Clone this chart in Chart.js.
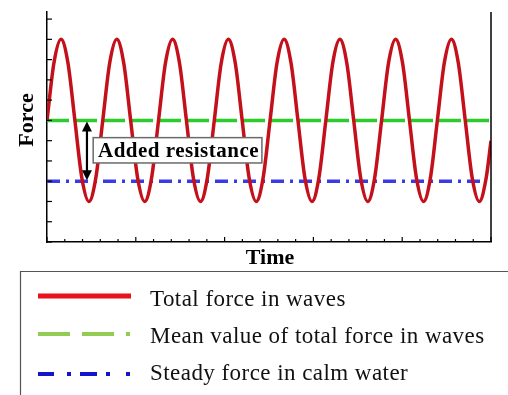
<!DOCTYPE html>
<html><head><meta charset="utf-8">
<script src="https://cdn.jsdelivr.net/npm/chart.js@4.4.1/dist/chart.umd.min.js"></script>
<style>html,body{margin:0;padding:0;background:#fff;overflow:hidden}canvas{display:block}</style>
</head><body>
<canvas id="c" width="508" height="395"></canvas>
<script>
// ---- data ----
const timePoints = [0, 0.39, 0.79, 1.18, 1.57, 1.96, 2.36, 2.75, 3.14, 3.53, 3.93, 4.32, 4.71, 5.10, 5.50, 5.89,
  6.28, 6.67, 7.07, 7.46, 7.85, 8.24, 8.64, 9.03, 9.42, 9.81, 10.21, 10.60, 10.99, 11.38, 11.78, 12.17,
  12.56, 12.95, 13.35, 13.74, 14.13, 14.52, 14.92, 15.31, 15.70, 16.09, 16.49, 16.88, 17.27, 17.66, 18.06, 18.45,
  18.84, 19.23, 19.63, 20.02, 20.41, 20.80, 21.20, 21.59, 21.98, 22.37, 22.77, 23.16, 23.55, 23.94, 24.34, 24.73, 25.0];
const totalForce = [6, 8.83, 10, 8.83, 6, 3.17, 2, 3.17, 6, 8.83, 10, 8.83, 6, 3.17, 2, 3.17,
  6, 8.83, 10, 8.83, 6, 3.17, 2, 3.17, 6, 8.83, 10, 8.83, 6, 3.17, 2, 3.17,
  6, 8.83, 10, 8.83, 6, 3.17, 2, 3.17, 6, 8.83, 10, 8.83, 6, 3.17, 2, 3.17,
  6, 8.83, 10, 8.83, 6, 3.17, 2, 3.17, 6, 8.83, 10, 8.83, 6, 3.17, 2, 3.17, 5.0];
const meanTime = [0, 25];
const meanForce = [6, 6];
const steadyTime = [0, 24.7];
const steadyForce = [3, 3];
const xTickValues = [0,1,2,3,4,5,6,7,8,9,10,11,12,13,14,15,16,17,18,19,20,21,22,23,24,25];
const xMajorTicks = [0,5,10,15,20,25];
const yTickValues = [0,1,2,3,4,5,6,7,8,9,10,11];
const seriesLabels = ['Total force in waves', 'Mean value of total force in waves', 'Steady force in calm water'];
const xTitle = 'Time';
const yTitle = 'Force';
const annotationText = 'Added resistance';
const arrowTime = 2.25;
const boxTime = [2.6, 12.1];
const boxForce = [5.15, 3.9];

const toXY = (xs, ys) => xs.map((x, i) => ({x: x, y: ys[i]}));

const overlay = {
  id: 'overlay',
  afterDatasetsDraw(chart) {
    const ctx = chart.ctx, xs = chart.scales.x, ys = chart.scales.y;
    const ca = chart.chartArea;
    ctx.save();
    // right axis line
    ctx.strokeStyle = '#000'; ctx.lineWidth = 1.5;
    ctx.beginPath(); ctx.moveTo(xs.getPixelForValue(25), ca.top); ctx.lineTo(xs.getPixelForValue(25), ca.bottom); ctx.stroke();
    // inward ticks
    const xl = xs.getPixelForValue(0), yb = ys.getPixelForValue(0);
    ctx.lineWidth = 1.2;
    yTickValues.forEach(v => {
      const py = ys.getPixelForValue(v);
      ctx.beginPath(); ctx.moveTo(xl, py); ctx.lineTo(xl + 5, py); ctx.stroke();
    });
    xTickValues.forEach(v => {
      const px = xs.getPixelForValue(v);
      const len = xMajorTicks.includes(v) ? 5 : 3;
      ctx.beginPath(); ctx.moveTo(px, yb); ctx.lineTo(px, yb - len); ctx.stroke();
    });
    // double arrow
    const ax = xs.getPixelForValue(arrowTime);
    const y1 = ys.getPixelForValue(meanForce[0]) + 1, y2 = ys.getPixelForValue(steadyForce[0]) - 1;
    ctx.fillStyle = '#000'; ctx.lineWidth = 2.2;
    ctx.beginPath(); ctx.moveTo(ax, y1 + 7); ctx.lineTo(ax, y2 - 7); ctx.stroke();
    ctx.beginPath(); ctx.moveTo(ax, y1); ctx.lineTo(ax - 5, y1 + 10); ctx.lineTo(ax + 5, y1 + 10); ctx.closePath(); ctx.fill();
    ctx.beginPath(); ctx.moveTo(ax, y2); ctx.lineTo(ax - 5, y2 - 10); ctx.lineTo(ax + 5, y2 - 10); ctx.closePath(); ctx.fill();
    // annotation box
    const bx1 = xs.getPixelForValue(boxTime[0]), bx2 = xs.getPixelForValue(boxTime[1]);
    const by1 = ys.getPixelForValue(boxForce[0]), by2 = ys.getPixelForValue(boxForce[1]);
    ctx.fillStyle = '#fff';
    ctx.fillRect(bx1, by1, bx2 - bx1, by2 - by1);
    ctx.strokeStyle = '#6a6a6a'; ctx.lineWidth = 1.5;
    ctx.strokeRect(bx1, by1, bx2 - bx1, by2 - by1);
    ctx.fillStyle = '#000';
    ctx.font = 'bold 21px "Liberation Serif", serif';
    ctx.letterSpacing = '0.5px';
    ctx.textAlign = 'center'; ctx.textBaseline = 'middle';
    ctx.fillText(annotationText, (bx1 + bx2) / 2 + 1, (by1 + by2) / 2 + 1);
    ctx.restore();
  },
  afterDraw(chart) {
    const ctx = chart.ctx, xs = chart.scales.x, ca = chart.chartArea;
    ctx.save();
    ctx.fillStyle = '#000';
    ctx.font = 'bold 22px "Liberation Serif", serif';
    ctx.textAlign = 'center'; ctx.textBaseline = 'alphabetic';
    ctx.fillText(xTitle, (ca.left + ca.right) / 2 + 1, 264);
    ctx.save();
    ctx.translate(33, (ca.top + ca.bottom) / 2 - 7);
    ctx.rotate(-Math.PI / 2);
    ctx.fillText(yTitle, 0, 0);
    ctx.restore();
    // legend box
    ctx.strokeStyle = '#555'; ctx.lineWidth = 1.2;
    ctx.beginPath(); ctx.moveTo(20.5, 400); ctx.lineTo(20.5, 271.5); ctx.lineTo(510, 271.5); ctx.stroke();
    // legend samples
    const rows = [296, 334, 374];
    ctx.lineCap = 'butt';
    ctx.strokeStyle = '#e8121a'; ctx.lineWidth = 5;
    ctx.beginPath(); ctx.moveTo(38, rows[0]); ctx.lineTo(131, rows[0]); ctx.stroke();
    ctx.strokeStyle = '#92cc55'; ctx.lineWidth = 4;
    [[38, 70], [82, 114], [126, 130]].forEach(s => { ctx.beginPath(); ctx.moveTo(s[0], rows[1]); ctx.lineTo(s[1], rows[1]); ctx.stroke(); });
    ctx.strokeStyle = '#1414cc';
    [[38, 54], [67, 71], [80, 97], [106, 110], [126, 130]].forEach(s => { ctx.beginPath(); ctx.moveTo(s[0], rows[2]); ctx.lineTo(s[1], rows[2]); ctx.stroke(); });
    ctx.fillStyle = '#111';
    ctx.font = '23px "Liberation Serif", serif';
    ctx.letterSpacing = '0.45px';
    ctx.textAlign = 'left'; ctx.textBaseline = 'alphabetic';
    const base = [306, 343, 380];
    seriesLabels.forEach((t, i) => ctx.fillText(t, 150, base[i]));
    ctx.restore();
  }
};

new Chart(document.getElementById('c'), {
  type: 'line',
  data: {
    datasets: [
      { label: seriesLabels[1], data: toXY(meanTime, meanForce), borderColor: '#2ccc2c', borderWidth: 3.5, borderDash: [22, 6], pointRadius: 0, order: 2 },
      { label: seriesLabels[2], data: toXY(steadyTime, steadyForce), borderColor: '#3b3be6', borderWidth: 3.5, borderDash: [13, 6, 3, 6], pointRadius: 0, order: 2 },
      { label: seriesLabels[0], data: toXY(timePoints, totalForce), borderColor: '#c4101a', borderWidth: 3.5, cubicInterpolationMode: 'monotone', pointRadius: 0, order: 1 }
    ]
  },
  options: {
    responsive: false, animation: false, events: [],
    layout: { padding: { left: 47, right: 17, top: 12, bottom: 153 } },
    plugins: { legend: { display: false }, tooltip: { enabled: false }, title: { display: false } },
    scales: {
      x: { type: 'linear', min: 0, max: 25, ticks: { display: false, stepSize: 1 },
           grid: { display: false, drawTicks: false }, border: { display: true, color: '#000', width: 1.5 } },
      y: { type: 'linear', min: 0, max: 11.35, ticks: { display: false, stepSize: 1 },
           grid: { display: false, drawTicks: false }, border: { display: true, color: '#000', width: 1.5 } }
    }
  },
  plugins: [overlay]
});
</script>
</body></html>
